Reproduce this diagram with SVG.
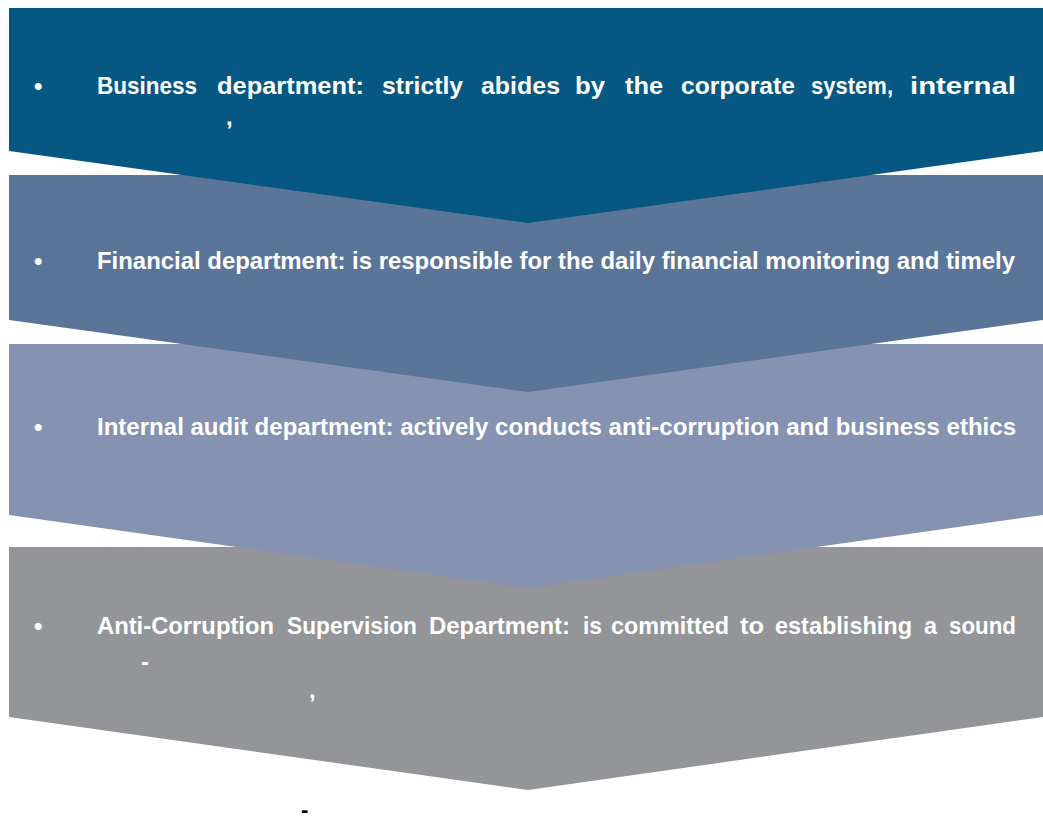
<svg xmlns="http://www.w3.org/2000/svg" width="1043" height="823" viewBox="0 0 1043 823">
<style>
.t{font-family:"Liberation Sans",Arial,sans-serif;font-weight:bold;font-size:24px;fill:#ffffff}
.k{font-family:"Liberation Sans",Arial,sans-serif;font-weight:bold;font-size:22px;fill:#000000}
</style>
<rect width="1043" height="823" fill="#ffffff"/>
<g id="anticorruption">
<path d="M9,547 H1043 V717 L528,790 L9,717 Z" fill="#939598"/>
<text class="t" x="34" y="634">•</text>
<text class="t" y="634"><tspan x="97" textLength="177" lengthAdjust="spacingAndGlyphs">Anti-Corruption</tspan><tspan x="287" textLength="130" lengthAdjust="spacingAndGlyphs">Supervision</tspan><tspan x="429" textLength="141" lengthAdjust="spacingAndGlyphs">Department:</tspan><tspan x="583" textLength="19" lengthAdjust="spacingAndGlyphs">is</tspan><tspan x="611" textLength="118" lengthAdjust="spacingAndGlyphs">committed</tspan><tspan x="740" textLength="24" lengthAdjust="spacingAndGlyphs">to</tspan><tspan x="775" textLength="137" lengthAdjust="spacingAndGlyphs">establishing</tspan><tspan x="924" textLength="13" lengthAdjust="spacingAndGlyphs">a</tspan><tspan x="949" textLength="67" lengthAdjust="spacingAndGlyphs">sound</tspan></text>
<text class="t" x="141" y="670">-</text>
<text class="t" x="309" y="698">,</text>
</g>
<g id="audit">
<path d="M9,344 H1043 V515 L528,588 L9,515 Z" fill="#8592b2"/>
<text class="t" x="34" y="435">•</text>
<text class="t" x="97" y="435" textLength="919" lengthAdjust="spacingAndGlyphs">Internal audit department: actively conducts anti-corruption and business ethics</text>
</g>
<g id="financial">
<path d="M9,175 H1043 V320 L528,392 L9,320 Z" fill="#5b7599"/>
<text class="t" x="34" y="269">•</text>
<text class="t" x="97" y="269" textLength="918" lengthAdjust="spacingAndGlyphs">Financial department: is responsible for the daily financial monitoring and timely</text>
</g>
<g id="business">
<path d="M9,8 H1043 V151 L528,223 L9,151 Z" fill="#065782"/>
<text class="t" x="34" y="94">•</text>
<text class="t" y="94"><tspan x="97" textLength="100" lengthAdjust="spacingAndGlyphs">Business</tspan><tspan x="217" textLength="147" lengthAdjust="spacingAndGlyphs">department:</tspan><tspan x="382" textLength="81" lengthAdjust="spacingAndGlyphs">strictly</tspan><tspan x="481" textLength="79" lengthAdjust="spacingAndGlyphs">abides</tspan><tspan x="575" textLength="30" lengthAdjust="spacingAndGlyphs">by</tspan><tspan x="625" textLength="38" lengthAdjust="spacingAndGlyphs">the</tspan><tspan x="681" textLength="114" lengthAdjust="spacingAndGlyphs">corporate</tspan><tspan x="811" textLength="82" lengthAdjust="spacingAndGlyphs">system,</tspan><tspan x="910" textLength="106" lengthAdjust="spacingAndGlyphs">internal</tspan></text>
<text class="t" x="226" y="125">,</text>
</g>
<g id="connectors"></g>
<text class="k" x="301" y="817">-</text>
</svg>
